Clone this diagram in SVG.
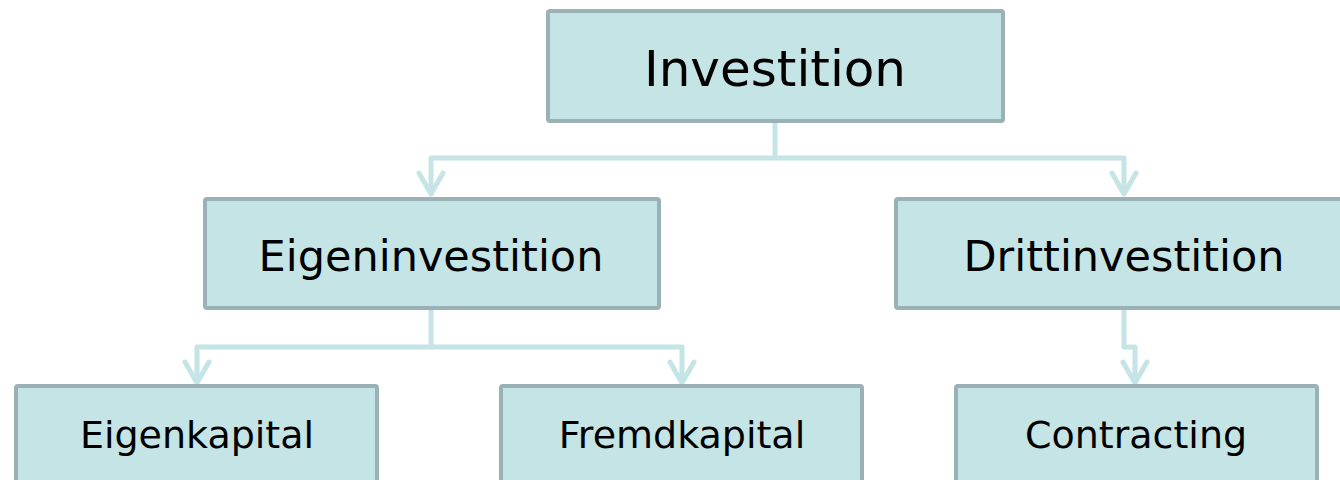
<svg xmlns="http://www.w3.org/2000/svg" width="1340" height="480" viewBox="0 0 1340 480">
<style>
.box{fill:#c4e4e6;stroke:#9ab1b5;stroke-width:4}
.t{font-family:"DejaVu Sans",Verdana,sans-serif;fill:#000;text-anchor:middle}
.c{fill:none;stroke:#c4e4e6;stroke-width:5;stroke-linejoin:round}
</style>
<defs>
<marker id="ah" markerUnits="userSpaceOnUse" markerWidth="40" markerHeight="40" refX="0" refY="0" orient="auto" overflow="visible" viewBox="-30 -20 40 40">
<path d="M-21,-12 L0,0 L-21,12" fill="none" stroke="#c4e4e6" stroke-width="5" stroke-linecap="round" stroke-linejoin="round"/>
</marker>
</defs>
<g id="connectors">
<path class="c" d="M775,123 V158 H431 V194" marker-end="url(#ah)"/>
<path class="c" d="M775,158 H1124 V194" marker-end="url(#ah)"/>
<path class="c" d="M431,310 V347 H197 V383" marker-end="url(#ah)"/>
<path class="c" d="M431,347 H682 V383" marker-end="url(#ah)"/>
<path class="c" d="M1124,310 V347 H1135 V383" marker-end="url(#ah)"/>
</g>
<g id="investition"><rect class="box" x="548" y="11" width="455" height="110" rx="2"/><text class="t" x="775" y="86" font-size="50">Investition</text></g>
<g id="eigeninvestition"><rect class="box" x="205" y="199" width="454" height="109" rx="2"/><text class="t" x="431" y="271" font-size="43">Eigeninvestition</text></g>
<g id="drittinvestition"><rect class="box" x="896" y="199" width="450" height="109" rx="2"/><text class="t" x="1124" y="271" font-size="43">Drittinvestition</text></g>
<g id="eigenkapital"><rect class="box" x="16" y="386" width="361" height="100" rx="2"/><text class="t" x="197" y="448" font-size="38">Eigenkapital</text></g>
<g id="fremdkapital"><rect class="box" x="501" y="386" width="361" height="100" rx="2"/><text class="t" x="682" y="448" font-size="38">Fremdkapital</text></g>
<g id="contracting"><rect class="box" x="956" y="386" width="361" height="100" rx="2"/><text class="t" x="1136" y="448" font-size="38">Contracting</text></g>
</svg>
